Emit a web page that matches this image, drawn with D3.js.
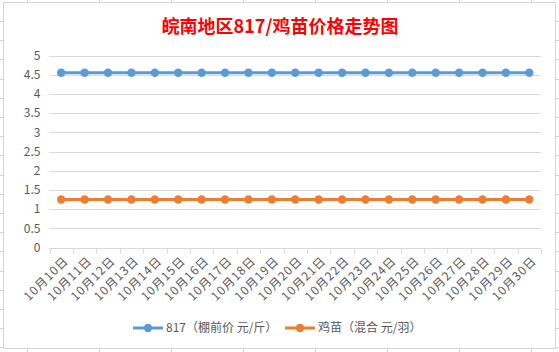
<!DOCTYPE html>
<html>
<head>
<meta charset="utf-8">
<script src="https://cdn.jsdelivr.net/npm/d3@7"></script>
<style>
  body { margin: 0; background: #fff; }
  text { font-family: "Microsoft YaHei", "Noto Sans CJK SC", sans-serif; }
</style>
</head>
<body>
<div id="graph"></div>
<script>
var title = '皖南地区817/鸡苗价格走势图'
var days = d3.range(10, 31).map(d => '10月' + d + '日')
var chick817 = days.map(() => 4.55)
var chickMix = days.map(() => 1.25)
var seriesNames = ['817（棚前价 元/斤）', '鸡苗（混合 元/羽）']
var yTicks = [0, 0.5, 1, 1.5, 2, 2.5, 3, 3.5, 4, 4.5, 5]
var colors = ['#5B9BD5', '#ED7D31']

var width = 559, height = 352
var svg = d3.select('#graph').append('svg')
  .attr('width', width).attr('height', height)

// spreadsheet cell lines peeking out around the chart
var g0 = svg.append('g').attr('stroke', '#d4d4d4').attr('stroke-width', 1)
g0.append('rect').attr('x', 3.5).attr('y', 2.5).attr('width', 552).attr('height', 346)
  .attr('fill', '#fff')
d3.range(27, 559, 72).forEach(x => {
  g0.append('line').attr('x1', x + .5).attr('x2', x + .5).attr('y1', 0).attr('y2', 2)
  g0.append('line').attr('x1', x + .5).attr('x2', x + .5).attr('y1', 349).attr('y2', 352)
})
d3.range(21, 352, 19.2).forEach(y => {
  g0.append('line').attr('y1', Math.round(y) + .5).attr('y2', Math.round(y) + .5).attr('x1', 0).attr('x2', 3)
  g0.append('line').attr('y1', Math.round(y) + .5).attr('y2', Math.round(y) + .5).attr('x1', 556).attr('x2', 559)
})

var x = d3.scaleBand().domain(days).range([49.5, 541])
var y = d3.scaleLinear().domain([0, 5]).range([247.5, 55.5])

svg.append('text')
  .text(title)
  .attr('x', 280).attr('y', 33)
  .attr('text-anchor', 'middle')
  .attr('fill', '#FF0000')
  .attr('font-size', 18).attr('font-weight', 'bold')

// grid
svg.append('g').selectAll('line').data(yTicks).join('line')
  .attr('x1', x.range()[0]).attr('x2', x.range()[1])
  .attr('y1', d => Math.round(y(d)) + .5).attr('y2', d => Math.round(y(d)) + .5)
  .attr('stroke', '#d9d9d9')

var yAxis = svg.append('g')
  .attr('transform', 'translate(' + x.range()[0] + ',0)')
  .call(d3.axisLeft(y).tickValues(yTicks).tickSize(0).tickPadding(9).tickFormat(d3.format('')))
yAxis.select('.domain').remove()
yAxis.selectAll('text').attr('fill', '#595959').attr('font-size', 12)

var xAxis = svg.append('g')
  .attr('transform', 'translate(0,' + (Math.round(y(0)) + .5) + ')')
xAxis.append('line').attr('x1', x.range()[0]).attr('x2', x.range()[1]).attr('stroke', '#d9d9d9')
xAxis.selectAll('line.tk').data(days.concat(['end'])).join('line').attr('class', 'tk')
  .attr('x1', (d, i) => Math.round(x.range()[0] + i * x.bandwidth()) + .5)
  .attr('x2', (d, i) => Math.round(x.range()[0] + i * x.bandwidth()) + .5)
  .attr('y1', 0).attr('y2', 5)
  .attr('stroke', '#d9d9d9')
xAxis.selectAll('text').data(days).join('text')
  .text(d => d)
  .attr('transform', d => 'translate(' + (x(d) + x.bandwidth() / 2 + 5) + ',10) rotate(-45)')
  .attr('text-anchor', 'end')
  .attr('dy', '0.35em')
  .attr('letter-spacing', 1)
  .attr('fill', '#595959')
  .attr('font-size', 12)

var line = d3.line()
  .x((d, i) => x(days[i]) + x.bandwidth() / 2)
  .y(d => y(d))

;[chick817, chickMix].forEach((s, k) => {
  svg.append('path').attr('d', line(s))
    .attr('fill', 'none').attr('stroke', colors[k]).attr('stroke-width', 3)
    .attr('stroke-linecap', 'round')
  svg.append('g').selectAll('circle').data(s).join('circle')
    .attr('cx', (d, i) => x(days[i]) + x.bandwidth() / 2)
    .attr('cy', d => y(d))
    .attr('r', 4.2)
    .attr('fill', colors[k])
})

// legend
var legX = [133, 285]
seriesNames.forEach((n, k) => {
  var lg = svg.append('g').attr('transform', 'translate(' + legX[k] + ',328)')
  lg.append('line').attr('x1', 0).attr('x2', 30).attr('stroke', colors[k]).attr('stroke-width', 3)
  lg.append('circle').attr('cx', 15).attr('r', 4.2).attr('fill', colors[k])
  lg.append('text').text(n).attr('x', 33).attr('dy', '0.35em')
    .attr('fill', '#595959').attr('font-size', 12)
})
</script>
</body>
</html>
